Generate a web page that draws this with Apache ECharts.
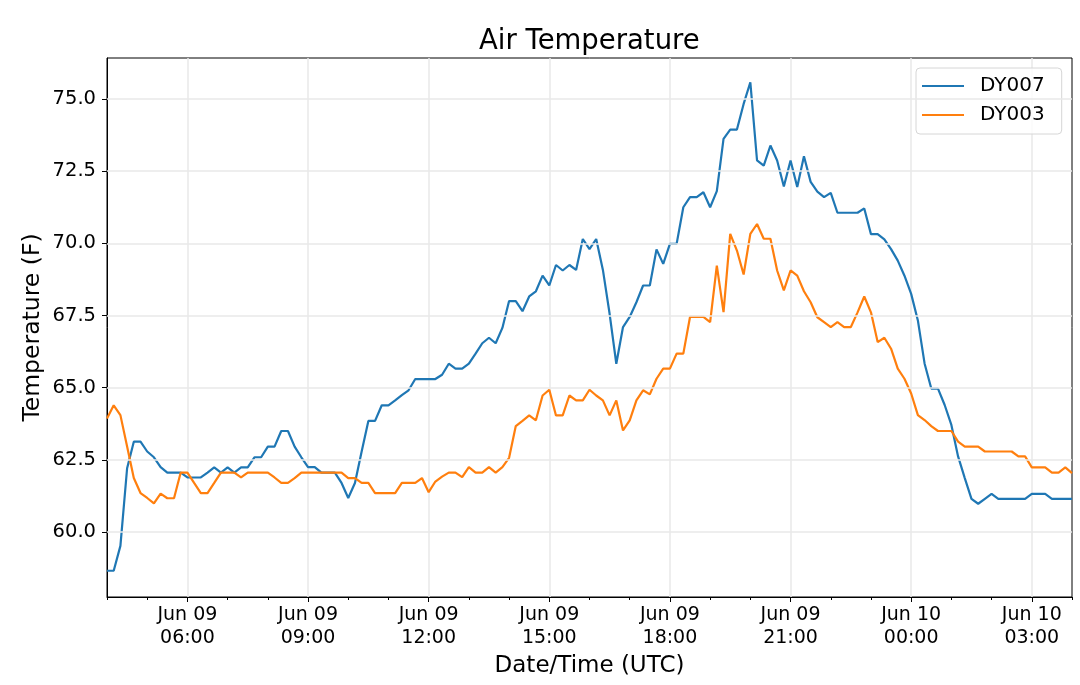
<!DOCTYPE html>
<html>
<head>
<meta charset="utf-8">
<title>Air Temperature</title>
<script src="https://cdn.jsdelivr.net/npm/echarts@6/dist/echarts.min.js"></script>
<style>
  html, body { margin: 0; padding: 0; background: #fff; }
  #chart { width: 1080px; height: 685px; }
</style>
</head>
<body>
<div id="chart"></div>
<script>
// 10 minute samples, Jun 09 04:00 -> Jun 10 04:00 (UTC)
const startHour = 4
const stepMin = 10
const sampleCount = 145

const times = []
for (let i = 0; i < sampleCount; i++) {
    const m = startHour * 60 + i * stepMin
    const day = 9 + Math.floor(m / 1440)
    const hh = Math.floor((m % 1440) / 60)
    const mm = m % 60
    times.push('Jun ' + String(day).padStart(2, '0') + ' ' + String(hh).padStart(2, '0') + ':' + String(mm).padStart(2, '0'))
}

const dy007 = [
    58.66, 58.66, 59.52, 62.21, 63.13, 63.13, 62.79, 62.59, 62.25, 62.06,
    62.06, 62.06, 61.89, 61.89, 61.89, 62.06, 62.24, 62.06, 62.24, 62.06,
    62.24, 62.24, 62.59, 62.59, 62.96, 62.96, 63.50, 63.50, 62.96, 62.59,
    62.25, 62.25, 62.06, 62.06, 62.06, 61.70, 61.18, 61.70, 62.79, 63.85,
    63.85, 64.39, 64.39, 64.56, 64.74, 64.91, 65.30, 65.30, 65.30, 65.30,
    65.45, 65.83, 65.66, 65.66, 65.83, 66.18, 66.54, 66.73, 66.54, 67.07,
    68.00, 68.00, 67.65, 68.16, 68.34, 68.88, 68.54, 69.25, 69.06, 69.25,
    69.08, 70.15, 69.80, 70.15, 69.08, 67.56, 65.83, 67.10, 67.45, 67.96,
    68.54, 68.54, 69.79, 69.29, 69.98, 69.98, 71.25, 71.60, 71.60, 71.77,
    71.25, 71.81, 73.62, 73.94, 73.94, 74.83, 75.58, 72.87, 72.69, 73.39,
    72.87, 71.97, 72.87, 71.95, 73.02, 72.13, 71.79, 71.60, 71.75, 71.06,
    71.06, 71.06, 71.06, 71.21, 70.32, 70.32, 70.14, 69.80, 69.40, 68.88,
    68.25, 67.33, 65.84, 64.97, 64.97, 64.40, 63.71, 62.62, 61.87, 61.15,
    60.98, 61.15, 61.32, 61.15, 61.15, 61.15, 61.15, 61.15, 61.32, 61.32,
    61.32, 61.15, 61.15, 61.15, 61.15,
]

const dy003 = [
    63.93, 64.39, 64.05, 62.96, 61.87, 61.35, 61.18, 60.99, 61.33, 61.17,
    61.17, 62.06, 62.06, 61.70, 61.35, 61.35, 61.70, 62.06, 62.06, 62.06,
    61.89, 62.06, 62.06, 62.06, 62.06, 61.89, 61.70, 61.70, 61.87, 62.06,
    62.06, 62.06, 62.06, 62.06, 62.06, 62.06, 61.87, 61.87, 61.70, 61.70,
    61.35, 61.35, 61.35, 61.35, 61.70, 61.70, 61.70, 61.87, 61.38, 61.75,
    61.92, 62.06, 62.06, 61.90, 62.25, 62.06, 62.06, 62.25, 62.06, 62.25,
    62.57, 63.67, 63.85, 64.04, 63.87, 64.73, 64.93, 64.04, 64.04, 64.73,
    64.56, 64.56, 64.93, 64.73, 64.56, 64.04, 64.56, 63.52, 63.87, 64.56,
    64.91, 64.77, 65.31, 65.66, 65.66, 66.18, 66.18, 67.45, 67.45, 67.45,
    67.27, 69.23, 67.62, 70.33, 69.75, 68.92, 70.33, 70.67, 70.16, 70.16,
    69.06, 68.37, 69.06, 68.88, 68.34, 67.96, 67.44, 67.27, 67.10, 67.27,
    67.10, 67.10, 67.61, 68.16, 67.61, 66.58, 66.73, 66.35, 65.66, 65.31,
    64.80, 64.05, 63.88, 63.67, 63.50, 63.50, 63.50, 63.13, 62.96, 62.96,
    62.96, 62.79, 62.79, 62.79, 62.79, 62.79, 62.62, 62.62, 62.24, 62.24,
    62.24, 62.06, 62.06, 62.24, 62.04,
]

const yTicks = [60, 62.5, 65, 67.5, 70, 72.5, 75]
const yMin = 57.75
const yMax = 76.42

// major tick every 3 h starting 06:00 (index 12), minor tick every hour
const isMajor = (i) => i % 18 === 12
const isMinor = (i) => i % 6 === 0 && !isMajor(i)

const font = 'DejaVu Sans'
const gridColor = '#e8e8e8'

var myChart = echarts.init(document.getElementById('chart'))
var option = {
    animation: false,
    backgroundColor: '#fff',
    textStyle: { fontFamily: font, color: '#000' },
    title: {
        text: 'Air Temperature',
        left: 474,
        top: 23,
        textStyle: { fontFamily: font, fontSize: 27.5, fontWeight: 'normal', color: '#000' },
    },
    legend: {
        data: ['DY007', 'DY003'],
        orient: 'vertical',
        left: 916,
        top: 68,
        icon: 'rect',
        itemWidth: 42,
        itemHeight: 2,
        itemGap: 9,
        padding: [8, 17, 9, 6],
        borderColor: '#d6d6d6',
        borderWidth: 1,
        borderRadius: 4,
        backgroundColor: 'rgba(255,255,255,0.8)',
        textStyle: { fontFamily: font, fontSize: 20, color: '#000', padding: [0, 0, 0, 11] },
    },
    grid: {
        left: 107,
        right: 8,
        top: 58,
        bottom: 88,
        show: true,
        borderColor: '#000',
        borderWidth: 1,
        backgroundColor: 'transparent',
    },
    xAxis: [
        {
            type: 'category',
            position: 'bottom',
            data: times,
            boundaryGap: false,
            name: 'Date/Time (UTC)',
            nameLocation: 'middle',
            nameGap: 54,
            nameTextStyle: { fontFamily: font, fontSize: 23, color: '#000' },
            axisLine: { onZero: false, lineStyle: { color: '#000', width: 1 } },
            axisTick: { interval: isMajor, length: 5, lineStyle: { color: '#000', width: 1 } },
            axisLabel: {
                interval: isMajor,
                margin: 7,
                fontFamily: font,
                fontSize: 19,
                lineHeight: 23,
                color: '#000',
                formatter: (v) => v.slice(0, 6) + '\n' + v.slice(7),
            },
            splitLine: { show: true, interval: isMajor, lineStyle: { color: gridColor, width: 1.5 } },
        },
        {
            type: 'category',
            position: 'bottom',
            data: times,
            boundaryGap: false,
            axisLine: { show: false, onZero: false },
            axisTick: { interval: isMinor, length: 3, lineStyle: { color: '#000', width: 1 } },
            axisLabel: { show: false },
            splitLine: { show: false },
        },
    ],
    yAxis: {
        type: 'value',
        min: yMin,
        max: yMax,
        name: 'Temperature (F)',
        nameLocation: 'middle',
        nameGap: 62,
        nameMoveOverlap: false,
        nameTextStyle: { fontFamily: font, fontSize: 23.5, color: '#000' },
        axisLine: { show: true, lineStyle: { color: '#000', width: 1 } },
        axisTick: { show: true, customValues: yTicks, length: 5, lineStyle: { color: '#000', width: 1 } },
        axisLabel: {
            customValues: yTicks,
            margin: 11,
            fontFamily: font,
            fontSize: 19.5,
            color: '#000',
            formatter: (v) => v.toFixed(1),
        },
        splitLine: { show: false },
    },
    series: [
        {
            name: 'grid',
            type: 'line',
            data: [],
            z: 1,
            silent: true,
            markLine: {
                silent: true,
                symbol: 'none',
                label: { show: false },
                lineStyle: { color: gridColor, width: 1.5, type: 'solid' },
                data: yTicks.map((v) => ({ yAxis: v })),
            },
        },
        {
            name: 'DY007',
            type: 'line',
            data: dy007,
            symbol: 'none',
            z: 3,
            color: '#1f77b4',
            lineStyle: { color: '#1f77b4', width: 2.2 },
        },
        {
            name: 'DY003',
            type: 'line',
            data: dy003,
            symbol: 'none',
            z: 3,
            color: '#ff7f0e',
            lineStyle: { color: '#ff7f0e', width: 2.2 },
        },
    ],
}
myChart.setOption(option)
</script>
</body>
</html>
